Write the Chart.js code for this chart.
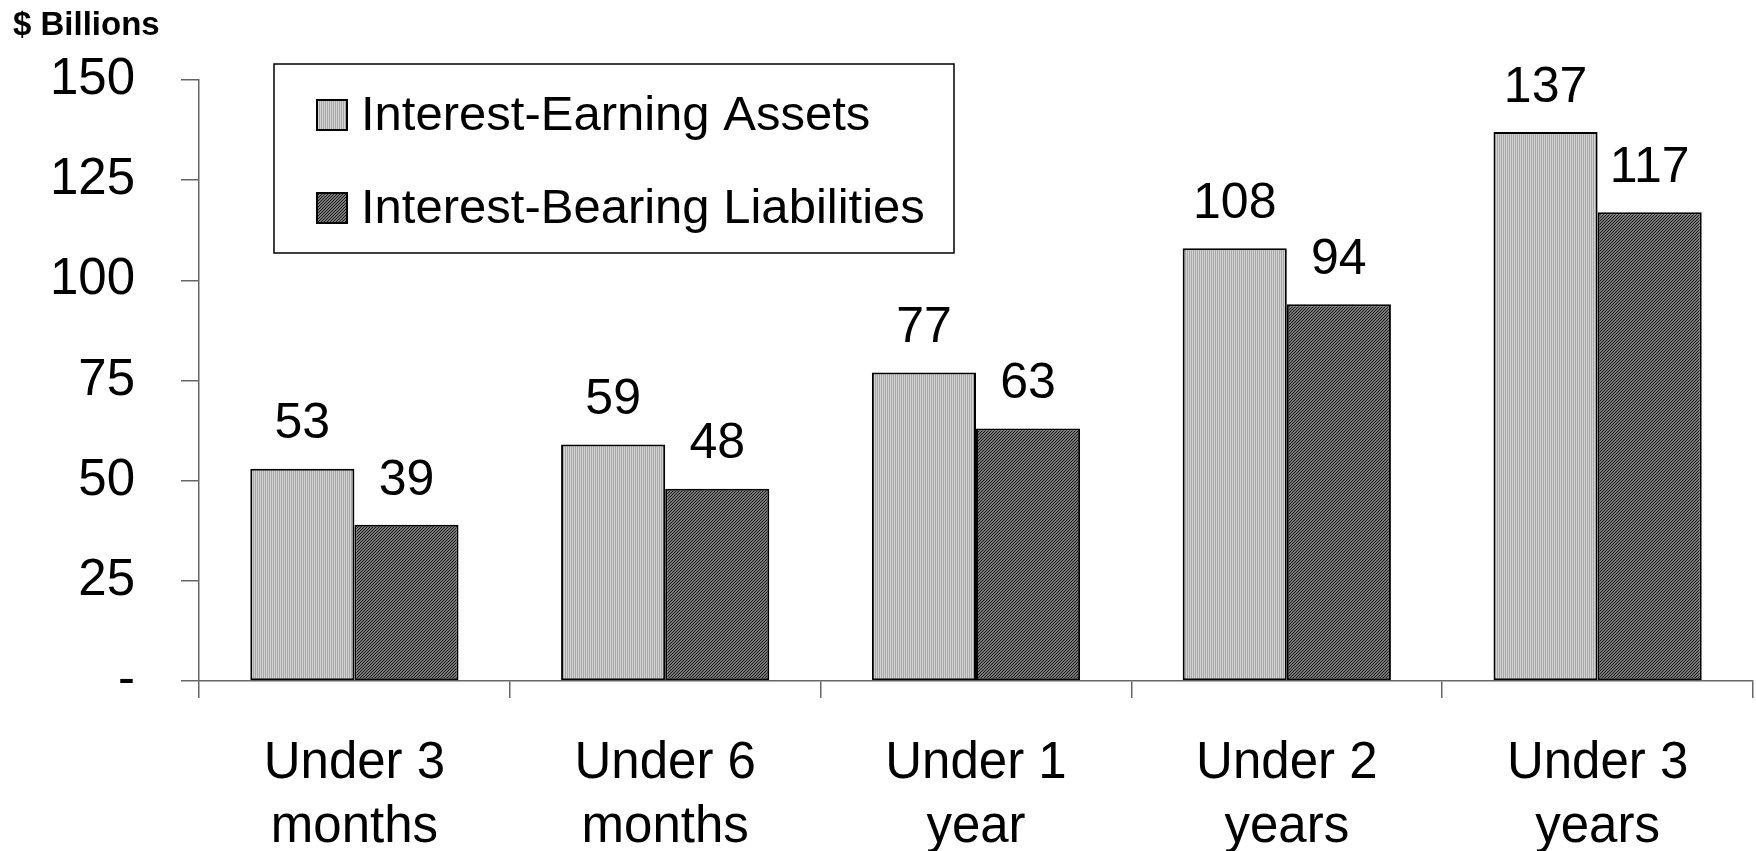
<!DOCTYPE html>
<html>
<head>
<meta charset="utf-8">
<script src="https://cdn.jsdelivr.net/npm/chart.js@4"></script>
<style>
  body { margin: 0; background: #fff; }
  #wrap { width: 1756px; height: 851px; }
</style>
</head>
<body>
<div id="wrap"><canvas id="graph_gap"></canvas></div>
<script>
// data
const categories = [['Under 3', 'months'], ['Under 6', 'months'], ['Under 1', 'year'], ['Under 2', 'years'], ['Under 3', 'years']];
const assets = [53, 59, 77, 108, 137];
const liabilities = [39, 48, 63, 94, 117];
const seriesNames = ['Interest-Earning Assets', 'Interest-Bearing Liabilities'];
const yTicks = [0, 25, 50, 75, 100, 125, 150];
const unitLabel = '$ Billions';

const FONT = "'Liberation Sans', Arial, sans-serif";
Chart.defaults.font.family = FONT;
Chart.defaults.color = '#000';

// fill patterns like the old excel ones
function makePattern(size, paint) {
    const c = document.createElement('canvas');
    c.width = size; c.height = size;
    const g = c.getContext('2d');
    paint(g);
    return g.createPattern(c, 'repeat');
}
const lightFill = makePattern(2, g => {
    g.fillStyle = '#d2d2d2'; g.fillRect(0, 0, 1, 2);
    g.fillStyle = '#a8a8a8'; g.fillRect(1, 0, 1, 2);
});
const darkFill = makePattern(3, g => {
    g.fillStyle = '#787878'; g.fillRect(0, 0, 3, 3);
    g.fillStyle = '#1a1a1a';
    g.fillRect(2, 0, 1, 1); g.fillRect(1, 1, 1, 1); g.fillRect(0, 2, 1, 1);
});
const fills = [lightFill, darkFill];

// values above the bars
const valueLabels = {
    id: 'valueLabels',
    afterDatasetsDraw(chart) {
        const ctx = chart.ctx;
        ctx.save();
        ctx.font = '50px ' + FONT;
        ctx.fillStyle = '#000';
        ctx.textAlign = 'center';
        ctx.textBaseline = 'middle';
        chart.data.datasets.forEach((ds, i) => {
            chart.getDatasetMeta(i).data.forEach((bar, j) => {
                ctx.fillText(ds.data[j], bar.x, bar.y - 44);
            });
        });
        ctx.restore();
    }
};

// boxed legend + unit label
const boxLegend = {
    id: 'boxLegend',
    afterDraw(chart) {
        const ctx = chart.ctx;
        ctx.save();
        ctx.font = 'bold 33px ' + FONT;
        ctx.fillStyle = '#000';
        ctx.textBaseline = 'middle';
        ctx.fillText(unitLabel, 13, 26);

        ctx.fillStyle = '#fff';
        ctx.fillRect(274, 64, 680, 189);
        ctx.strokeStyle = '#000';
        ctx.lineWidth = 1.5;
        ctx.strokeRect(274, 64, 680, 189);

        ctx.font = '49px ' + FONT;
        const rows = [115, 208];
        chart.data.datasets.forEach((ds, i) => {
            const y = rows[i];
            ctx.fillStyle = ds.backgroundColor;
            ctx.fillRect(317, y - 15, 30, 30);
            ctx.lineWidth = 2;
            ctx.strokeRect(317, y - 15, 30, 30);
            ctx.fillStyle = '#000';
            ctx.fillText(ds.label, 361, y + 1);
        });
        ctx.restore();
    }
};

const data = {
    labels: categories,
    datasets: [assets, liabilities].map((vals, i) => ({
        label: seriesNames[i],
        data: vals,
        backgroundColor: fills[i],
        borderColor: '#000',
        borderWidth: 2,
        borderSkipped: false,
        categoryPercentage: 0.67,
        barPercentage: 1.0
    }))
};

const options = {
    responsive: true,
    maintainAspectRatio: false,
    animation: false,
    layout: { padding: { top: 80, right: 3, left: 0, bottom: 0 } },
    plugins: {
        legend: { display: false },
        tooltip: { enabled: false }
    },
    scales: {
        x: {
            grid: { offset: true, drawOnChartArea: false, tickLength: 17, color: '#666', lineWidth: 1.5 },
            border: { color: '#666', width: 1.5 },
            ticks: { font: { size: 51, lineHeight: 1.25 }, color: '#000', padding: 34, maxRotation: 0, autoSkip: false },
            afterFit: s => { s.height = 170; }
        },
        y: {
            min: 0,
            max: 150,
            afterBuildTicks: s => { s.ticks = yTicks.map(v => ({ value: v })); },
            grid: { drawOnChartArea: false, tickLength: 18, color: '#666', lineWidth: 1.5 },
            border: { color: '#666', width: 1.5 },
            ticks: {
                font: { size: 51 },
                color: '#000',
                padding: 46,
                callback: v => (v === 0 ? '-' : v)
            },
            afterFit: s => { s.width = 199; }
        }
    }
};

new Chart(document.getElementById('graph_gap').getContext('2d'), {
    type: 'bar',
    data: data,
    options: options,
    plugins: [valueLabels, boxLegend]
});
</script>
</body>
</html>
